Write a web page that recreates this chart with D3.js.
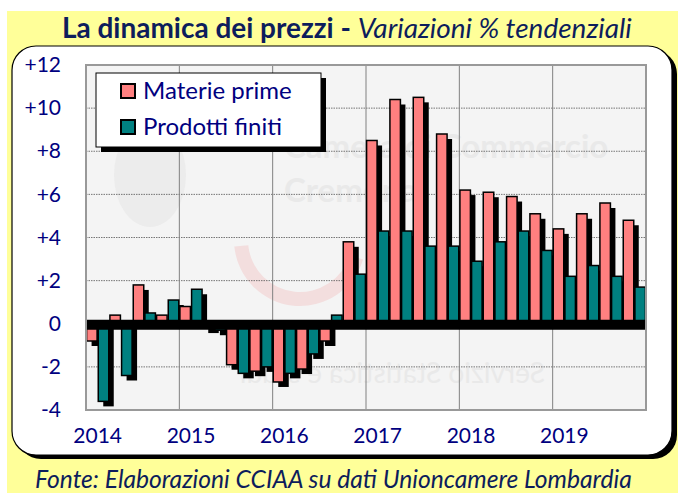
<!DOCTYPE html>
<html>
<head>
<meta charset="utf-8">
<script src="https://cdn.jsdelivr.net/npm/d3@7"></script>
<style>
body { margin: 0; background: #fff; }
svg { display: block; font-family: Lato, "Open Sans", sans-serif; }
</style>
</head>
<body>
<svg id="chart" width="678" height="493"></svg>
<script>
// data (variazioni % tendenziali, trimestrali)
var years = ["2014", "2015", "2016", "2017", "2018", "2019"];
var quarters = ["T1", "T2", "T3", "T4"];
var materiePrime = [-0.8, 0.4, 1.8, 0.4, 0.8, -0.2, -1.9, -2.2, -2.7, -2.1, -0.8, 3.8,
	8.5, 10.4, 10.5, 8.8, 6.2, 6.1, 5.9, 5.1, 4.4, 5.1, 5.6, 4.8];
var prodottiFiniti = [-3.6, -2.4, 0.5, 1.1, 1.6, -0.3, -2.3, -2.0, -2.3, -1.4, 0.4, 2.3,
	4.3, 4.3, 3.6, 3.6, 2.9, 3.8, 4.3, 3.4, 2.2, 2.7, 2.2, 1.7];
var seriesNames = ["Materie prime", "Prodotti finiti"];
var seriesColors = ["#ff8080", "#008080"];
var yTicks = [-4, -2, 0, 2, 4, 6, 8, 10, 12];
var titleBold = "La dinamica dei prezzi - ";
var titleItalic = "Variazioni % tendenziali";
var footnote = "Fonte: Elaborazioni CCIAA su dati Unioncamere Lombardia";

var navy = "#00007f";
var darkNavy = "#0d1d5c";

// categories: one per quarter
var cats = [];
years.forEach(function(y){
	quarters.forEach(function(q){ cats.push(y + "-" + q); });
});
var rows = cats.map(function(c, i){
	return { key: c, values: [materiePrime[i], prodottiFiniti[i]] };
});

var svg = d3.select("#chart");

// fit a text to a given width by changing its font size
function fitWidth(sel, size, width){
	sel.style("font-size", size + "px");
	var w = sel.node().getComputedTextLength();
	sel.style("font-size", (size * width / w) + "px");
}

// yellow background
svg.append("rect")
	.attr("x", 7).attr("y", 11)
	.attr("width", 671).attr("height", 482)
	.attr("fill", "#ffff99")
	;

// title
var title = svg.append("text")
	.attr("x", 62).attr("y", 38)
	.attr("fill", darkNavy)
	;
title.append("tspan").attr("font-weight", "bold").text(titleBold);
title.append("tspan").attr("font-style", "italic").text(titleItalic);
fitWidth(title, 23, 570);

// white rounded panel with shadow
svg.append("rect")
	.attr("x", 17).attr("y", 50)
	.attr("width", 660).attr("height", 409)
	.attr("rx", 24)
	.attr("fill", "#000")
	;
svg.append("rect")
	.attr("x", 12).attr("y", 46)
	.attr("width", 660).attr("height", 409)
	.attr("rx", 24)
	.attr("fill", "#fff")
	.attr("stroke", "#000")
	.attr("stroke-width", 1.2)
	;

// scales
var plot = { left: 86, right: 646, top: 65, bottom: 410 };
var x = d3.scaleBand().domain(cats).range([plot.left, plot.right]).padding(0);
var xs = d3.scaleBand().domain([0, 1]).range([0, x.bandwidth()])
	.paddingInner(0.1).paddingOuter(0.05);
var y = d3.scaleLinear().domain([-4, 12]).range([plot.bottom, plot.top]);

// plot area
svg.append("rect")
	.attr("x", plot.left).attr("y", plot.top)
	.attr("width", plot.right - plot.left).attr("height", plot.bottom - plot.top)
	.attr("fill", "#f4f4f4")
	;

svg.append("clipPath").attr("id", "plotclip")
	.append("rect")
	.attr("x", plot.left).attr("y", plot.top)
	.attr("width", plot.right - plot.left).attr("height", plot.bottom - plot.top)
	;

// faint watermark
var wm = svg.append("g").attr("clip-path", "url(#plotclip)").attr("fill", "#e9e9e9");
wm.append("ellipse")
	.attr("cx", 150).attr("cy", 175).attr("rx", 36).attr("ry", 52)
	.attr("fill", "#ececec");
wm.append("path")
	.attr("d", d3.arc()({ innerRadius: 52, outerRadius: 66, startAngle: -0.1, endAngle: -Math.PI + 0.3 }))
	.attr("transform", "translate(300,240) rotate(-90)")
	.attr("fill", "#f3dede");
wm.append("text").attr("x", 284).attr("y", 158)
	.style("font-size", "33px").attr("font-weight", "bold")
	.text("Camera di Commercio");
wm.append("text").attr("x", 284).attr("y", 202)
	.style("font-size", "33px").attr("font-weight", "bold")
	.text("Cremona");
wm.append("text")
	.attr("transform", "translate(545,383) scale(-1,1)")
	.style("font-size", "28px")
	.text("Servizio Statistica e studi");

// horizontal dotted grid
svg.append("g").selectAll("line")
	.data(yTicks.filter(function(d){ return d > -4 && d < 12; }))
	.join("line")
	.attr("x1", plot.left).attr("x2", plot.right)
	.attr("y1", function(d){ return y(d); })
	.attr("y2", function(d){ return y(d); })
	.attr("stroke", "#555")
	.attr("stroke-width", 0.8)
	.attr("stroke-dasharray", "1.5,1")
	;

// vertical year lines
svg.append("g").selectAll("line")
	.data(years.slice(1))
	.join("line")
	.attr("x1", function(d){ return x(d + "-" + quarters[0]); })
	.attr("x2", function(d){ return x(d + "-" + quarters[0]); })
	.attr("y1", plot.top).attr("y2", plot.bottom)
	.attr("stroke", "#808080")
	.attr("stroke-width", 1)
	;

// bars with black shadow
var bars = svg.append("g").attr("clip-path", "url(#plotclip)");
rows.forEach(function(r){
	r.values.forEach(function(v, i){
		var bx = x(r.key) + xs(i);
		var by = Math.min(y(v), y(0));
		var bh = Math.abs(y(v) - y(0));
		bars.append("rect")
			.attr("x", bx + 5).attr("y", by + 5)
			.attr("width", xs.bandwidth()).attr("height", bh)
			.attr("fill", "#000")
			;
		bars.append("rect")
			.attr("x", bx).attr("y", by)
			.attr("width", xs.bandwidth()).attr("height", bh)
			.attr("fill", seriesColors[i])
			.attr("stroke", "#000")
			.attr("stroke-width", 1.5)
			;
	});
});

// thick zero line
svg.append("rect")
	.attr("x", plot.left).attr("y", y(0) - 4)
	.attr("width", plot.right - plot.left).attr("height", 10)
	.attr("fill", "#000")
	;

// plot border
svg.append("rect")
	.attr("x", plot.left).attr("y", plot.top)
	.attr("width", plot.right - plot.left).attr("height", plot.bottom - plot.top)
	.attr("fill", "none")
	.attr("stroke", "#999")
	.attr("stroke-width", 2)
	;

// y axis labels
var yAxis = svg.append("g")
	.attr("transform", "translate(61,0)")
	.call(d3.axisLeft(y).tickValues(yTicks).tickSize(0).tickPadding(0)
		.tickFormat(function(d){ return d > 0 ? "+" + d : String(d); }))
	;
yAxis.select(".domain").remove();
yAxis.selectAll("text")
	.attr("fill", navy)
	.style("font-size", "21px")
	.style("font-family", "Lato, 'Open Sans', sans-serif")
	;

// x axis labels (year on first quarter)
var xAxis = svg.append("g")
	.attr("transform", "translate(0,428)")
	.call(d3.axisBottom(x).tickSize(0).tickPadding(0)
		.tickFormat(function(d){
			var p = d.split("-");
			return p[1] == quarters[0] ? p[0] : "";
		}))
	;
xAxis.select(".domain").remove();
xAxis.selectAll("text")
	.attr("fill", navy)
	.style("font-size", "21px")
	.style("font-family", "Lato, 'Open Sans', sans-serif")
	;

// legend
var lg = svg.append("g").attr("transform", "translate(96,73)");
lg.append("rect")
	.attr("x", 5).attr("y", 5).attr("width", 225).attr("height", 74)
	.attr("fill", "#000");
lg.append("rect")
	.attr("width", 225).attr("height", 74)
	.attr("fill", "#fff").attr("stroke", "#000").attr("stroke-width", 1);
seriesNames.forEach(function(n, i){
	lg.append("rect")
		.attr("x", 25).attr("y", 11 + i * 36)
		.attr("width", 14).attr("height", 14)
		.attr("fill", seriesColors[i])
		.attr("stroke", "#000").attr("stroke-width", 2);
	lg.append("text")
		.attr("x", 47).attr("y", 26 + i * 36)
		.attr("fill", navy)
		.style("font-size", "24px")
		.text(n);
});

// footnote
var foot = svg.append("text")
	.attr("x", 35).attr("y", 488)
	.attr("fill", darkNavy)
	.attr("font-style", "italic")
	.text(footnote)
	;
fitWidth(foot, 21, 597);
</script>
</body>
</html>
